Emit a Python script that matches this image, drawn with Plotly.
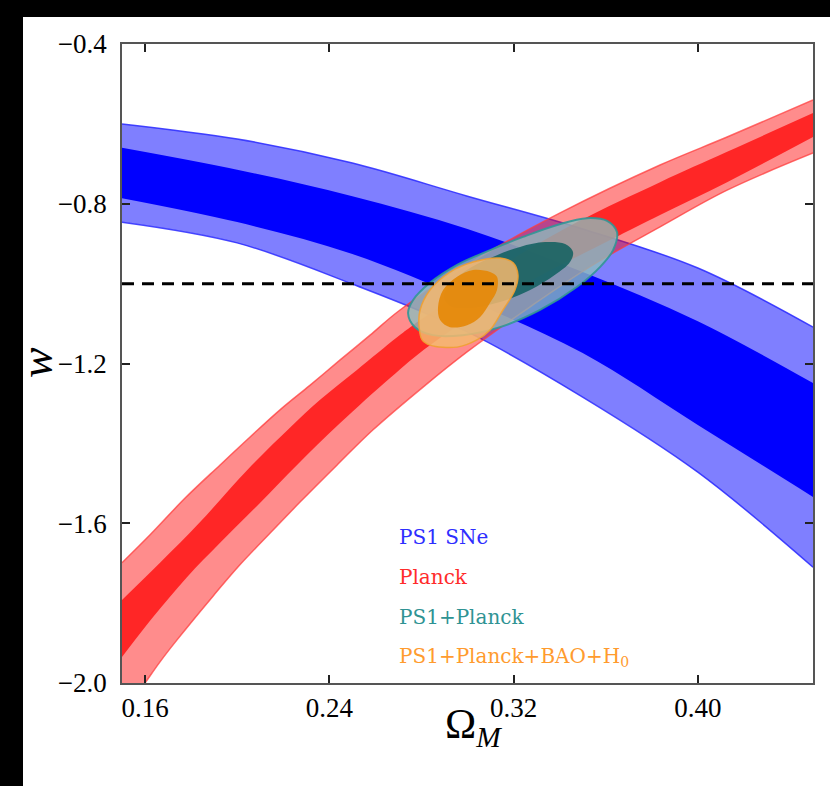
import plotly.graph_objects as go

# ---------------- data ----------------
om_ticks = [0.16, 0.24, 0.32, 0.40]
w_ticks = [-0.4, -0.8, -1.2, -1.6, -2.0]
om_range = [0.15, 0.45]
w_range = [-2.0, -0.4]
w_lambda = -1.0

# PS1 SNe band (68% / 95%)
sn_om = [0.15, 0.20, 0.25, 0.30, 0.35, 0.40, 0.45]
sn_outer_hi = [-0.600, -0.638, -0.698, -0.781, -0.863, -0.961, -1.109]
sn_inner_hi = [-0.660, -0.715, -0.781, -0.863, -0.971, -1.094, -1.249]
sn_inner_lo = [-0.786, -0.846, -0.926, -1.041, -1.174, -1.354, -1.534]
sn_outer_lo = [-0.846, -0.898, -1.001, -1.121, -1.284, -1.472, -1.710]

# Planck band
pl_outer_hi_om = [0.1500, 0.1622, 0.1774, 0.1926, 0.2056, 0.2186, 0.2317, 0.2447,
                  0.2577, 0.2707, 0.3055, 0.3402, 0.3836, 0.4127, 0.4500]
pl_outer_hi_w = [-1.699, -1.629, -1.537, -1.454, -1.384, -1.316, -1.254, -1.191,
                 -1.129, -1.066, -0.933, -0.823, -0.703, -0.633, -0.540]
pl_inner_hi_om = [0.1500, 0.1665, 0.1839, 0.2043, 0.2229, 0.2360, 0.2520, 0.2694,
                  0.2764, 0.3141, 0.3476, 0.3836, 0.4127, 0.4500]
pl_inner_hi_w = [-1.792, -1.699, -1.597, -1.467, -1.361, -1.291, -1.216, -1.134,
                 -1.104, -0.958, -0.846, -0.746, -0.670, -0.573]
pl_inner_lo_om = [0.1500, 0.1635, 0.1782, 0.1926, 0.2099, 0.2260, 0.2447, 0.2664,
                  0.2837, 0.3228, 0.3619, 0.3836, 0.4127, 0.4500]
pl_inner_lo_w = [-1.935, -1.835, -1.735, -1.649, -1.549, -1.454, -1.349, -1.236,
                 -1.154, -1.008, -0.891, -0.828, -0.746, -0.633]
pl_outer_lo_om = [0.1500, 0.1600, 0.1665, 0.1739, 0.1896, 0.2012, 0.2156, 0.2273,
                  0.2434, 0.2590, 0.2807, 0.2998, 0.3272, 0.3545, 0.3836, 0.4127, 0.4500]
pl_outer_lo_w = [-2.080, -2.000, -1.947, -1.892, -1.782, -1.704, -1.617, -1.547,
                 -1.454, -1.366, -1.259, -1.171, -1.058, -0.953, -0.858, -0.766, -0.673]

# PS1+Planck contours
pp_outer_om = [0.3649, 0.3606, 0.3519, 0.3389, 0.3241, 0.3098, 0.2955, 0.2837, 0.2764,
               0.2742, 0.2772, 0.2850, 0.2981, 0.3141, 0.3315, 0.3476, 0.3576, 0.3632]
pp_outer_w = [-0.871, -0.843, -0.836, -0.853, -0.883, -0.916, -0.953, -0.998, -1.041,
              -1.074, -1.109, -1.129, -1.129, -1.109, -1.066, -1.008, -0.958, -0.916]
pp_inner_om = [0.3458, 0.3424, 0.3337, 0.3228, 0.3120, 0.3011, 0.2933, 0.2898, 0.2924,
               0.3011, 0.3141, 0.3272, 0.3380, 0.3445]
pp_inner_w = [-0.921, -0.901, -0.896, -0.908, -0.931, -0.961, -0.996, -1.031, -1.056,
              -1.061, -1.046, -1.016, -0.978, -0.946]

# PS1+Planck+BAO+H0 contours
all_outer_om = [0.3141, 0.3024, 0.2924, 0.2837, 0.2794, 0.2790, 0.2803, 0.2837, 0.2955,
                0.3041, 0.3098, 0.3154, 0.3206, 0.3219, 0.3198]
all_outer_w = [-0.936, -0.946, -0.971, -1.016, -1.066, -1.109, -1.141, -1.154, -1.159,
               -1.141, -1.116, -1.066, -1.016, -0.978, -0.948]
all_inner_om = [0.3128, 0.3098, 0.3024, 0.2955, 0.2894, 0.2872, 0.2881, 0.2924, 0.2998,
                0.3054, 0.3098, 0.3128]
all_inner_w = [-0.983, -0.971, -0.966, -0.983, -1.016, -1.059, -1.091, -1.109, -1.104,
               -1.084, -1.048, -1.016]

labels = ["PS1 SNe", "Planck", "PS1+Planck", "PS1+Planck+BAO+H<sub>0</sub>"]
label_colors = ["#2e2eff", "#ff2b2b", "#2f9393", "#ff9b2e"]

# ---------------- figure ----------------
fig = go.Figure()


def band(xh, yh, xl, yl, fillcolor, linecolor, lw):
    fig.add_trace(go.Scatter(x=xh, y=yh, mode="lines", hoverinfo="skip", showlegend=False,
                             line=dict(color=linecolor, width=lw, shape="spline", smoothing=1.0)))
    fig.add_trace(go.Scatter(x=xl, y=yl, mode="lines", hoverinfo="skip", showlegend=False,
                             fill="tonexty", fillcolor=fillcolor,
                             line=dict(color=linecolor, width=lw, shape="spline", smoothing=1.0)))


def closed(xs, ys, fillcolor, linecolor, lw):
    fig.add_trace(go.Scatter(x=list(xs) + [xs[0]], y=list(ys) + [ys[0]], mode="lines",
                             hoverinfo="skip", showlegend=False, fill="toself",
                             fillcolor=fillcolor,
                             line=dict(color=linecolor, width=lw, shape="spline", smoothing=1.0)))


# PS1 SNe
band(sn_om, sn_outer_hi, sn_om, sn_outer_lo, "rgba(0,0,255,0.5)", "rgba(40,40,255,0.85)", 1.5)
band(sn_om, sn_inner_hi, sn_om, sn_inner_lo, "rgba(0,0,255,1)", "rgba(0,0,255,0)", 0.5)

# Planck
band(pl_outer_hi_om, pl_outer_hi_w, pl_outer_lo_om, pl_outer_lo_w,
     "rgba(255,0,0,0.45)", "rgba(255,60,60,0.75)", 1.5)
band(pl_inner_hi_om, pl_inner_hi_w, pl_inner_lo_om, pl_inner_lo_w,
     "rgba(255,0,0,0.73)", "rgba(255,0,0,0)", 0.5)

# PS1+Planck
closed(pp_outer_om, pp_outer_w, "rgba(140,190,188,0.78)", "rgba(50,150,150,0.9)", 2)
closed(pp_inner_om, pp_inner_w, "rgba(15,95,95,0.85)", "rgba(15,95,95,0)", 0.5)

# PS1+Planck+BAO+H0
closed(all_outer_om, all_outer_w, "rgba(245,185,110,0.85)", "rgba(240,160,50,0.9)", 1.5)
closed(all_inner_om, all_inner_w, "rgba(230,135,5,0.9)", "rgba(230,135,5,0)", 0.5)

# w = -1 line
fig.add_trace(go.Scatter(x=om_range, y=[w_lambda, w_lambda], mode="lines", hoverinfo="skip",
                         showlegend=False,
                         line=dict(color="black", width=3, dash="12px,8px")))

# layout geometry (pixels)
W, H = 830, 786
L, R, T, B = 122, 17, 44, 103
pw, ph = W - L - R, H - T - B


def px(x):
    return (x - L) / pw


def py(y):
    return (H - B - y) / ph


annotations = []
for i, (txt, col) in enumerate(zip(labels, label_colors)):
    annotations.append(dict(x=px(397), y=py(537 + 40 * i), xref="paper", yref="paper",
                            text=txt, showarrow=False, xanchor="left", yanchor="middle",
                            font=dict(family="DejaVu Serif", size=20, color=col)))
annotations.append(dict(x=px(36), y=py(363), xref="paper", yref="paper", text="<i>w</i>",
                        textangle=-90, showarrow=False, xanchor="center", yanchor="middle",
                        font=dict(family="Liberation Serif", size=46, color="black")))
annotations.append(dict(x=px(473), y=py(727), xref="paper", yref="paper",
                        text="Ω<sub><i>M</i></sub>", showarrow=False,
                        xanchor="center", yanchor="middle",
                        font=dict(family="Liberation Serif", size=42, color="black")))

axis_common = dict(showgrid=False, zeroline=False, ticks="inside", ticklen=8, tickwidth=1.5,
                   tickcolor="#222", showline=True, linecolor="#555", linewidth=1.5,
                   mirror="ticks",
                   tickfont=dict(family="Liberation Serif", size=27, color="black"))

fig.update_layout(
    width=W, height=H,
    margin=dict(l=L, r=R, t=T, b=B),
    paper_bgcolor="black", plot_bgcolor="white",
    xaxis=dict(range=om_range, tickvals=om_ticks, tickformat=".2f", ticklabelstandoff=0,
               **axis_common),
    yaxis=dict(range=w_range, tickvals=w_ticks, tickformat=".1f", ticklabelstandoff=8,
               **axis_common),
    annotations=annotations,
    shapes=[dict(type="rect", xref="paper", yref="paper", layer="below",
                 x0=px(23), x1=px(840), y0=py(800), y1=py(17),
                 fillcolor="white", line=dict(width=0))],
    showlegend=False,
)

fig.write_html("out.html")
